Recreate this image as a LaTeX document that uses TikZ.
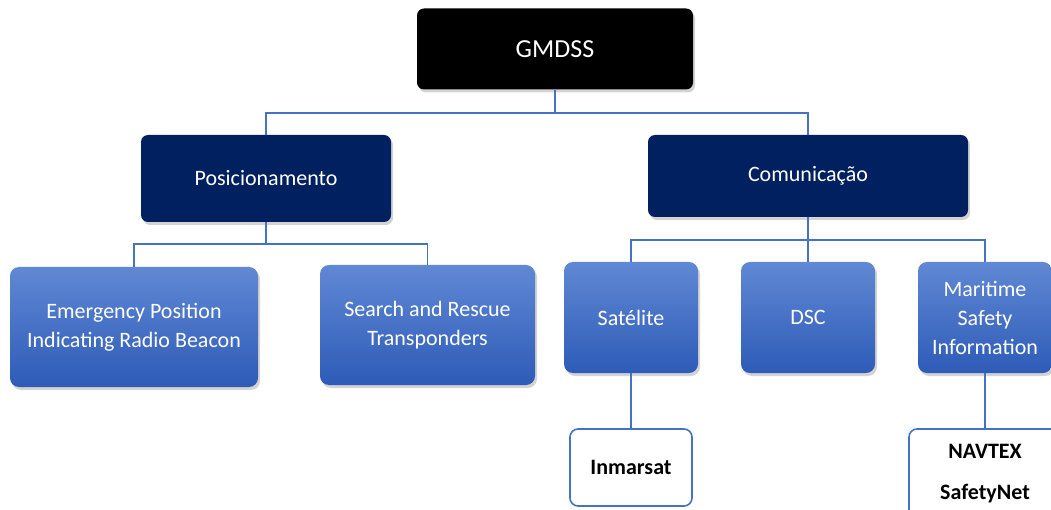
\documentclass[tikz,border=0pt]{standalone}
\usepackage{fontspec}
\setmainfont{Carlito}
\usepackage{tikz}
\usetikzlibrary{positioning,calc,shadows}

\definecolor{navy}{HTML}{002060}
\definecolor{linkblue}{HTML}{4472C4}
\definecolor{boxtop}{HTML}{6088D4}
\definecolor{boxbot}{HTML}{2D5BB7}

\begin{document}
\begin{tikzpicture}[x=1pt, y=-1pt, thick,
    conn/.style={draw=linkblue, line width=1.6pt},
    boxshadow/.style={drop shadow={opacity=0.35, shadow xshift=2pt, shadow yshift=-3pt}},
    topbox/.style={rectangle, rounded corners=7pt, fill=black, text=white, boxshadow,
        minimum width=276pt, minimum height=81pt, font=\fontsize{26}{31}\selectfont},
    catbox/.style={rectangle, rounded corners=7pt, fill=navy, text=white, boxshadow,
        font=\fontsize{22}{29}\selectfont},
    subbox/.style={rectangle, rounded corners=9pt, top color=boxtop, bottom color=boxbot,
        text=white, align=center, boxshadow, font=\fontsize{22}{29}\selectfont},
    leafbox/.style={rectangle, rounded corners=8pt, draw=linkblue, line width=1.6pt,
        fill=white, align=center, font=\fontsize{22}{29}\selectfont\bfseries}
]
    \useasboundingbox (0,0) rectangle (1051,510);
    \clip (0,0) rectangle (1051,510);

    % levels
    \node [topbox] (gmdss) at (555,49) {GMDSS};
    \node [catbox, minimum width=250pt, minimum height=87pt] (pos) at (266,178.5) {Posicionamento};
    \node [catbox, minimum width=320pt, minimum height=82pt] (com) at (808,176) {Comunicação};

    \node [subbox, minimum width=248pt, minimum height=120pt] (epirb) at (134,327) {Emergency Position\\Indicating Radio Beacon};
    \node [subbox, minimum width=215pt, minimum height=120pt] (sart) at (427.5,325) {Search and Rescue\\Transponders};
    \node [subbox, minimum width=134pt, minimum height=111pt] (sat) at (631,317.5) {Satélite};
    \node [subbox, minimum width=134pt, minimum height=111pt] (dsc) at (808,317.5) {DSC};
    \node [subbox, minimum width=134pt, minimum height=111pt] (msi) at (985,317.5) {Maritime\\Safety\\Information};

    \node [leafbox, minimum width=122pt, minimum height=77pt] (inm) at (631,467.5) {Inmarsat};
    \node [leafbox, minimum width=152pt, minimum height=90pt] (nav) at (985,474) {NAVTEX\\[12pt]SafetyNet};

    % connectors
    \coordinate (bus1) at (555,113);
    \coordinate (bus2) at (266,244);
    \coordinate (bus3) at (808,240);

    \draw [conn] (gmdss) -- (bus1);
    \draw [conn] (pos) |- (bus1) -| (com);
    \draw [conn] (pos) -- (bus2);
    \draw [conn] (epirb) |- (bus2) -| (sart);
    \draw [conn] (com) -- (bus3);
    \draw [conn] (dsc) -- (bus3);
    \draw [conn] (sat) |- (bus3) -| (msi);
    \draw [conn] (sat) -- (inm);
    \draw [conn] (msi) -- (nav);
\end{tikzpicture}
\end{document}
